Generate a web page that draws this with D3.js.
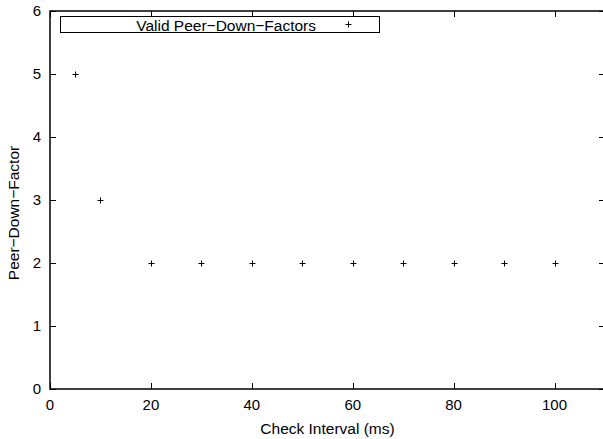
<!DOCTYPE html>
<html>
<head>
<meta charset="utf-8">
<script src="https://cdn.jsdelivr.net/npm/d3@7"></script>
<style>
  body { margin: 0; background: #fff; overflow: hidden; }
  svg { display: block; font-family: "Liberation Sans", Arial, sans-serif; }
</style>
</head>
<body>
<script>
const intervals = [5, 10, 20, 30, 40, 50, 60, 70, 80, 90, 100]
const factors = [5, 3, 2, 2, 2, 2, 2, 2, 2, 2, 2]
const xTicks = [0, 20, 40, 60, 80, 100]
const yTicks = [0, 1, 2, 3, 4, 5, 6]

const width = 603, height = 439
const margin = { top: 11, right: -2, bottom: 50, left: 50 }

const svg = d3.select("body").append("svg")
    .attr("width", width)
    .attr("height", height)

const x = d3.scaleLinear().domain([0, 110]).range([margin.left, width - margin.right])
const y = d3.scaleLinear().domain([0, 6]).range([height - margin.bottom, margin.top])

const tickLen = 6
const g = svg.append("g").attr("stroke", "#000").attr("stroke-width", 1)

// ticks on all four sides, pointing inward
xTicks.forEach(t => {
    const px = Math.round(x(t)) + 0.5
    g.append("line").attr("x1", px).attr("x2", px).attr("y1", y(0)).attr("y2", y(0) - tickLen)
    g.append("line").attr("x1", px).attr("x2", px).attr("y1", y(6)).attr("y2", y(6) + tickLen)
})
yTicks.forEach(t => {
    const py = Math.round(y(t)) + 0.5
    g.append("line").attr("x1", x(0)).attr("x2", x(0) + tickLen).attr("y1", py).attr("y2", py)
    g.append("line").attr("x1", x(110)).attr("x2", x(110) - tickLen).attr("y1", py).attr("y2", py)
})

// frame
svg.append("rect")
    .attr("x", x(0)).attr("y", y(6))
    .attr("width", x(110) - x(0)).attr("height", y(0) - y(6))
    .attr("fill", "none").attr("stroke", "#000").attr("stroke-width", 1.5)

// tick labels
svg.append("g").selectAll("text").data(xTicks).join("text")
    .attr("x", d => x(d)).attr("y", y(0) + 21)
    .attr("text-anchor", "middle").attr("font-size", 15)
    .text(d => d)
svg.append("g").selectAll("text").data(yTicks).join("text")
    .attr("x", x(0) - 9).attr("y", d => y(d) + 5)
    .attr("text-anchor", "end").attr("font-size", 15)
    .text(d => d)

// axis titles
svg.append("text")
    .attr("x", 327.5).attr("y", 434)
    .attr("text-anchor", "middle").attr("font-size", 15.5)
    .text("Check Interval (ms)")
svg.append("text")
    .attr("transform", "translate(19,213) rotate(-90)")
    .attr("text-anchor", "middle").attr("font-size", 15.5)
    .text("Peer\u2212Down\u2212Factor")

// points as plus markers
const s = 3
const pts = svg.append("g").attr("stroke", "#000").attr("stroke-width", 1)
intervals.forEach((v, i) => {
    const cx = Math.round(x(v)) + 0.5, cy = Math.round(y(factors[i])) + 0.5
    pts.append("line").attr("x1", cx - s).attr("x2", cx + s).attr("y1", cy).attr("y2", cy)
    pts.append("line").attr("x1", cx).attr("x2", cx).attr("y1", cy - s).attr("y2", cy + s)
})

// legend
const leg = svg.append("g")
leg.append("rect").attr("x", 60.5).attr("y", 16.5).attr("width", 319).attr("height", 16)
    .attr("fill", "#fff").attr("stroke", "#000").attr("stroke-width", 1)
leg.append("text").attr("x", 316).attr("y", 30.5)
    .attr("text-anchor", "end").attr("font-size", 15.5)
    .text("Valid Peer\u2212Down\u2212Factors")
leg.append("line").attr("x1", 345.5).attr("x2", 351.5).attr("y1", 24.5).attr("y2", 24.5).attr("stroke", "#000")
leg.append("line").attr("x1", 348.5).attr("x2", 348.5).attr("y1", 21.5).attr("y2", 27.5).attr("stroke", "#000")
</script>
</body>
</html>
